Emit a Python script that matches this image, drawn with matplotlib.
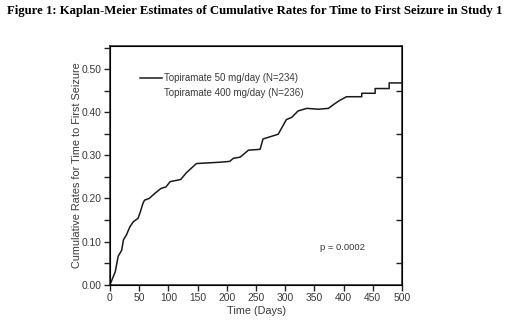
import matplotlib
matplotlib.use('Agg')
import matplotlib.pyplot as plt
from matplotlib.lines import Line2D
from matplotlib.ticker import MultipleLocator, FormatStrFormatter

# Kaplan-Meier cumulative rate, Topiramate 50 mg/day arm
days = [0, 9, 14, 20, 23, 28, 34, 40, 48, 52, 56, 59, 67, 77, 87, 96, 103,
        121, 131, 148, 187, 205, 211, 223, 237, 257, 262, 288, 302, 311,
        322, 337, 357, 374, 385, 394, 405, 431, 431, 454, 454, 478, 478, 500]
rates = [0.0, 0.030, 0.066, 0.080, 0.104, 0.115, 0.134, 0.146, 0.154, 0.169,
         0.187, 0.196, 0.200, 0.212, 0.223, 0.227, 0.239, 0.244, 0.260, 0.281,
         0.284, 0.286, 0.293, 0.296, 0.312, 0.314, 0.338, 0.349, 0.383, 0.388,
         0.403, 0.409, 0.407, 0.409, 0.420, 0.428, 0.436, 0.436, 0.444, 0.444,
         0.455, 0.455, 0.468, 0.468]

series_labels = ['Topiramate 50 mg/day (N=234)', 'Topiramate 400 mg/day (N=236)']
p_text = 'p = 0.0002'
title = 'Figure 1: Kaplan-Meier Estimates of Cumulative Rates for Time to First Seizure in Study 1'

narrow = ['Liberation Sans Narrow', 'Liberation Sans', 'DejaVu Sans']
grey = '#3a3a3a'

fig = plt.figure(figsize=(5.09, 3.23), dpi=100)
ax = fig.add_axes([0.2161, 0.1186, 0.5737, 0.7381])

ax.plot(days, rates, color='#1a1a1a', lw=1.1)

ax.set_xlim(0, 500)
ax.set_ylim(0, 0.553)
ax.xaxis.set_major_locator(MultipleLocator(50))
ax.yaxis.set_major_locator(MultipleLocator(0.10))
ax.yaxis.set_minor_locator(MultipleLocator(0.05))
ax.yaxis.set_major_formatter(FormatStrFormatter('%.2f'))
ax.tick_params(axis='both', which='both', direction='out', length=4.5,
               width=1.0, color='#222222', labelsize=7.4, labelcolor=grey, pad=1.5)
for lab in ax.get_xticklabels() + ax.get_yticklabels():
    lab.set_family(narrow)

for sp in ax.spines.values():
    sp.set_linewidth(1.1)
    sp.set_color('#222222')

# inward ticks on the right-hand frame
ax2 = ax.twinx()
ax2.set_ylim(ax.get_ylim())
ax2.set_yticks([0.05, 0.15, 0.25, 0.35, 0.45])
ax2.tick_params(axis='y', direction='in', length=4, width=1.0, color='#222222',
                labelright=False)

ax.set_xlabel('Time (Days)', fontsize=7.8, color=grey, family=narrow)
ax.set_ylabel('Cumulative Rates for Time to First Seizure', fontsize=7.8,
              color=grey, family=narrow)
ax.xaxis.set_label_coords(0.5, -0.088)
ax.yaxis.set_label_coords(-0.097, 0.5)

handles = [Line2D([], [], color='#1a1a1a', lw=1.1), Line2D([], [], color='none')]
leg = ax.legend(handles, series_labels, loc='upper left', bbox_to_anchor=(0.072, 0.925),
                frameon=False, handlelength=2.3, handletextpad=0.2, labelspacing=0.5,
                prop={'family': narrow, 'size': 7})
for t in leg.get_texts():
    t.set_color(grey)

ax.text(398, 0.087, p_text, fontsize=6.8, color=grey, family=narrow,
        ha='center', va='center')

fig.text(0.5, 0.965, title, ha='center', va='center', fontsize=9.2,
         fontweight='bold', family=['Liberation Serif', 'DejaVu Serif'])

fig.savefig('out.png', dpi=100)
